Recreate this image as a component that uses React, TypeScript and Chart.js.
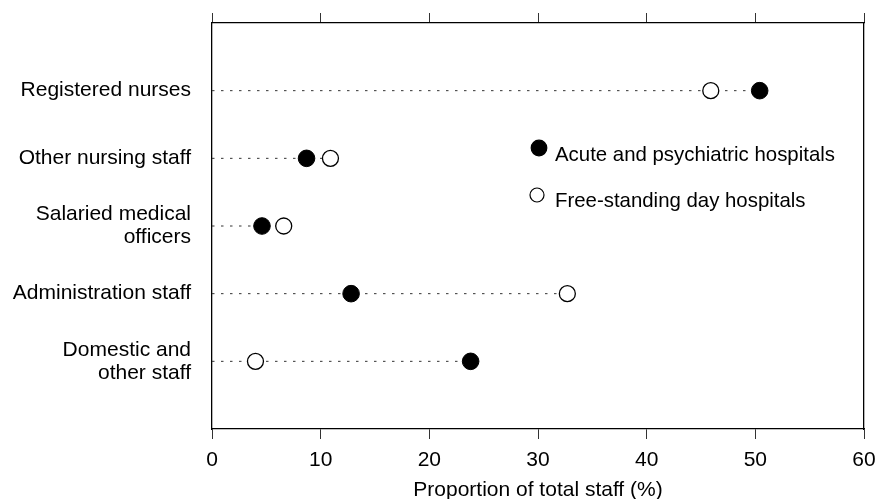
import React, { useEffect, useRef } from "react";
import { Chart, registerables } from "chart.js";

Chart.register(...registerables);

const categories: (string | string[])[] = [
  "Registered nurses",
  "Other nursing staff",
  ["Salaried medical", "officers"],
  "Administration staff",
  ["Domestic and", "other staff"],
];
const acute = [50.4, 8.7, 4.6, 12.8, 23.8];
const dayHosp = [45.9, 10.9, 6.6, 32.7, 4.0];
const seriesLabels = ["Acute and psychiatric hospitals", "Free-standing day hospitals"];
const xTitle = "Proportion of total staff (%)";

const FONT = "'Liberation Sans', Arial, Helvetica, sans-serif";

const insideLegend = {
  id: "insideLegend",
  afterDatasetsDraw(chart: any) {
    const { ctx, chartArea } = chart;
    const pts = chart.data.datasets.filter((d: any) => d.label);
    const items = [
      { cx: chartArea.left + 327, cy: chartArea.top + 125, r: 7.8, ty: chartArea.top + 132 },
      { cx: chartArea.left + 325, cy: chartArea.top + 172, r: 7, ty: chartArea.top + 178 },
    ];
    ctx.save();
    items.forEach((it, i) => {
      const d = pts[i];
      ctx.beginPath();
      ctx.arc(it.cx, it.cy, it.r, 0, Math.PI * 2);
      ctx.fillStyle = d.pointBackgroundColor;
      ctx.fill();
      ctx.lineWidth = 1.2;
      ctx.strokeStyle = d.pointBorderColor;
      ctx.stroke();
      ctx.fillStyle = "#000";
      ctx.font = `20.4px ${FONT}`;
      ctx.textAlign = "left";
      ctx.textBaseline = "middle";
      ctx.fillText(d.label, chartArea.left + 343, it.ty);
    });
    ctx.restore();
  },
};

export default function App() {
  const ref = useRef<HTMLCanvasElement>(null);
  useEffect(() => {
    document.body.style.margin = "0";
    const idx = categories.map((_, i) => i);
    const lineSets = idx.map((i) => ({
      data: [
        { x: 0, y: i },
        { x: Math.max(acute[i], dayHosp[i]), y: i },
      ],
      showLine: true,
      borderColor: "#333",
      borderWidth: 1,
      borderDash: [2.5, 6.5],
      pointRadius: 0,
      pointHoverRadius: 0,
      fill: false,
      order: 2,
    }));
    const noPad = (s: any) => {
      s.paddingTop = 0;
      s.paddingBottom = 0;
      s.paddingLeft = 0;
      s.paddingRight = 0;
    };
    const chart = new Chart(ref.current!, {
      type: "scatter",
      data: {
        datasets: [
          ...lineSets,
          {
            label: seriesLabels[0],
            data: acute.map((v, i) => ({ x: v, y: i })),
            pointRadius: 8.3,
            pointBackgroundColor: "#000",
            pointBorderColor: "#000",
            pointBorderWidth: 1,
            order: 1,
          },
          {
            label: seriesLabels[1],
            data: dayHosp.map((v, i) => ({ x: v, y: i })),
            pointRadius: 8,
            pointBackgroundColor: "#fff",
            pointBorderColor: "#000",
            pointBorderWidth: 1.3,
            order: 0,
          },
        ] as any,
      },
      options: {
        animation: false,
        responsive: false,
        maintainAspectRatio: false,
        layout: { padding: 0 },
        plugins: { legend: { display: false }, tooltip: { enabled: false } },
        scales: {
          x: {
            type: "linear",
            position: "bottom",
            min: 0,
            max: 60,
            ticks: {
              stepSize: 10,
              color: "#000",
              font: { family: FONT, size: 21 },
              padding: 9,
              maxRotation: 0,
              autoSkip: false,
            },
            grid: { drawOnChartArea: false, tickLength: 10, color: "#333" },
            border: { color: "#000", width: 1.3 },
            title: {
              display: true,
              text: xTitle,
              color: "#000",
              font: { family: FONT, size: 21, lineHeight: 0.8 },
              padding: 0,
            },
            afterFit: (s: any) => {
              s.height = 70;
              noPad(s);
            },
          },
          x2: {
            type: "linear",
            position: "top",
            min: 0,
            max: 60,
            ticks: { stepSize: 10, display: false },
            grid: { drawOnChartArea: false, tickLength: 10, color: "#333" },
            border: { color: "#000", width: 1.3 },
            afterFit: (s: any) => {
              s.height = 23;
              noPad(s);
            },
          },
          y: {
            type: "linear",
            min: -1,
            max: 5,
            reverse: true,
            afterBuildTicks: (s: any) => {
              s.ticks = idx.map((v) => ({ value: v }));
            },
            ticks: {
              callback: (v: any) => categories[v as number],
              color: "#000",
              font: { family: FONT, size: 21, lineHeight: 1.1 },
              padding: 21,
              autoSkip: false,
            },
            grid: { display: false, drawTicks: false },
            border: { color: "#000", width: 1.3 },
            afterFit: (s: any) => {
              s.width = 212;
              noPad(s);
            },
          },
          y2: {
            type: "linear",
            position: "right",
            min: -1,
            max: 5,
            ticks: { display: false },
            grid: { display: false, drawTicks: false },
            border: { color: "#000", width: 1.3 },
            afterFit: (s: any) => {
              s.width = 12;
              noPad(s);
            },
          },
        },
      } as any,
      plugins: [insideLegend],
    });
    return () => chart.destroy();
  }, []);
  return (
    <div style={{ width: 876, height: 499 }}>
      <canvas ref={ref} width={876} height={499} style={{ display: "block" }} />
    </div>
  );
}
